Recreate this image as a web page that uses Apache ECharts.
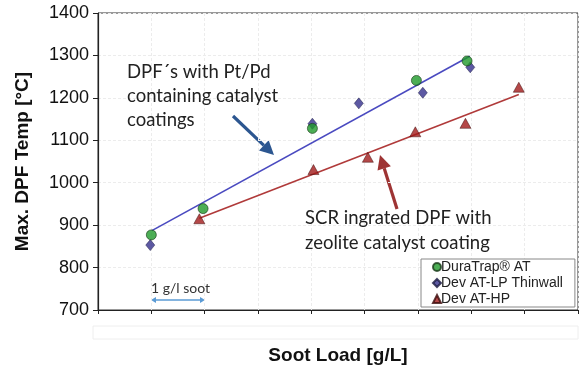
<!DOCTYPE html>
<html>
<head>
    <meta charset="utf-8">
    <title>DPF temp vs soot load</title>
    <script src="https://cdn.jsdelivr.net/npm/echarts@6/dist/echarts.min.js"></script>
    <style>
        html, body { margin: 0; padding: 0; background: #fff; }
    </style>
</head>
<body>
<div id="chart" style="width:584px; height:370px;"></div>
<script>
    // data (x = soot load in tick units of 1 g/l)
    var duraX = [1.0, 1.97, 4.02, 5.97, 6.92];
    var duraY = [877, 939, 1128, 1241, 1287];
    var lpX = [0.98, 4.02, 4.89, 6.09, 6.98];
    var lpY = [853, 1139, 1187, 1212, 1272];
    var hpX = [1.9, 4.04, 5.06, 5.95, 6.89, 7.89];
    var hpY = [915, 1031, 1060, 1120, 1140, 1225];
    // trend line end points
    var blueFitX = [1.01, 6.97];
    var blueFitY = [887, 1298];
    var redFitX = [1.9, 7.89];
    var redFitY = [916, 1208];
    var yTicks = [700, 800, 900, 1000, 1100, 1200, 1300, 1400];

    function pairs(xs, ys) {
        return xs.map(function (x, i) { return [x, ys[i]]; });
    }

    // simple arrow built from a line and a triangle head
    function arrow(x1, y1, x2, y2, color, w, head) {
        var a = Math.atan2(y2 - y1, x2 - x1);
        var bx = x2 - head * Math.cos(a), by = y2 - head * Math.sin(a);
        var px = Math.sin(a) * head * 0.5, py = -Math.cos(a) * head * 0.5;
        return {
            type: 'group', z: 100,
            children: [
                { type: 'line', shape: { x1: x1, y1: y1, x2: bx, y2: by },
                  style: { stroke: color, lineWidth: w } },
                { type: 'polygon', shape: { points: [[x2, y2], [bx + px, by + py], [bx - px, by - py]] },
                  style: { fill: color } }
            ]
        };
    }

    function dblArrow(x1, x2, y, color) {
        var h = 5;
        return {
            type: 'group', z: 100,
            children: [
                { type: 'line', shape: { x1: x1 + h, y1: y, x2: x2 - h, y2: y },
                  style: { stroke: color, lineWidth: 1.5 } },
                { type: 'polygon', shape: { points: [[x1, y], [x1 + h, y - 3], [x1 + h, y + 3]] },
                  style: { fill: color } },
                { type: 'polygon', shape: { points: [[x2, y], [x2 - h, y - 3], [x2 - h, y + 3]] },
                  style: { fill: color } }
            ]
        };
    }

    var annoFont = 'Lato, "Open Sans", sans-serif';

    var chart = echarts.init(document.getElementById('chart'));
    var option = {
        animation: false,
        grid: { left: 98, right: 6, top: 13, bottom: 54, show: true, borderColor: '#333', borderWidth: 1 },
        xAxis: {
            type: 'value', min: 0, max: 9, interval: 1,
            name: 'Soot Load [g/L]', nameLocation: 'middle', nameGap: 36,
            nameTextStyle: { fontFamily: 'Arial, "Liberation Sans"', fontWeight: 'bold', fontSize: 19, color: '#111' },
            axisLine: { lineStyle: { color: '#222', width: 1.2 } },
            axisTick: { show: true, length: 4, lineStyle: { color: '#222' } },
            axisLabel: { show: false },
            splitLine: { show: true, lineStyle: { color: '#ececec', type: [3, 2] } }
        },
        yAxis: {
            type: 'value', min: 700, max: 1400, interval: 100,
            name: 'Max. DPF Temp [°C]', nameLocation: 'middle', nameGap: 66,
            nameTextStyle: { fontFamily: 'Arial, "Liberation Sans"', fontWeight: 'bold', fontSize: 19, color: '#111' },
            axisLine: { show: true, lineStyle: { color: '#222', width: 1.2 } },
            axisTick: { show: true, length: 5, lineStyle: { color: '#222' } },
            axisLabel: {
                fontFamily: 'Arial, "Liberation Sans"', fontSize: 18, color: '#111', margin: 9,
                formatter: function (v) { return yTicks.indexOf(v) >= 0 ? String(v) : ''; }
            },
            splitLine: { show: true, lineStyle: { color: '#ececec', type: [3, 2] } }
        },
        legend: {
            orient: 'vertical', left: 421, top: 259,
            data: ['DuraTrap® AT', 'Dev AT-LP Thinwall', 'Dev AT-HP'],
            backgroundColor: '#fff', borderColor: '#888', borderWidth: 1,
            padding: [1, 12, 1, 11], itemGap: 2, itemWidth: 8, itemHeight: 8,
            textStyle: { fontFamily: 'Arial, "Liberation Sans"', fontSize: 14, color: '#222', padding: [0, 0, 0, -5] }
        },
        series: [
            {
                name: 'blue fit', type: 'line', data: pairs(blueFitX, blueFitY),
                symbol: 'none', lineStyle: { color: '#4a4ac0', width: 1.6 }, z: 2
            },
            {
                name: 'red fit', type: 'line', data: pairs(redFitX, redFitY),
                symbol: 'none', lineStyle: { color: '#b03a3a', width: 1.6 }, z: 2
            },
            {
                name: 'DuraTrap® AT', type: 'scatter', data: pairs(duraX, duraY),
                symbol: 'circle', symbolSize: 10,
                itemStyle: { color: '#1f9a2a', borderColor: '#1a3a1a', borderWidth: 0.8 }, z: 4
            },
            {
                name: 'Dev AT-LP Thinwall', type: 'scatter', data: pairs(lpX, lpY),
                symbol: 'diamond', symbolSize: [9, 11],
                itemStyle: { color: '#34308c', borderColor: '#1a1a40', borderWidth: 0.6 }, z: 3
            },
            {
                name: 'Dev AT-HP', type: 'scatter', data: pairs(hpX, hpY),
                symbol: 'triangle', symbolSize: [11, 10],
                itemStyle: { color: '#a11a1a', borderColor: '#3a0a0a', borderWidth: 0.6 }, z: 3
            }
        ],
        graphic: [
            // faint empty label strip under the axis
            { type: 'rect', shape: { x: 93, y: 326, width: 485, height: 13 },
              style: { fill: 'none', stroke: '#eeeeee', lineWidth: 1 }, silent: true },
            { type: 'text', left: 127, top: 60, z: 100,
              style: { text: 'DPF´s with Pt/Pd\ncontaining catalyst\ncoatings', font: '18.5px ' + annoFont,
                       fill: '#222', lineHeight: 24 } },
            arrow(233, 116, 274, 155, '#2c5690', 3.2, 14),
            { type: 'text', left: 305, top: 206, z: 100,
              style: { text: 'SCR ingrated DPF with\nzeolite catalyst coating', font: '18.5px ' + annoFont,
                       fill: '#222', lineHeight: 25 } },
            arrow(397, 209, 380, 155, '#9e3434', 3.2, 14),
            { type: 'text', left: 151, top: 281, z: 100,
              style: { text: '1 g/l soot', font: '14px ' + annoFont, fill: '#333' } },
            dblArrow(151, 205, 300, '#5b9bd5')
        ]
    };
    chart.setOption(option);
</script>
</body>
</html>
